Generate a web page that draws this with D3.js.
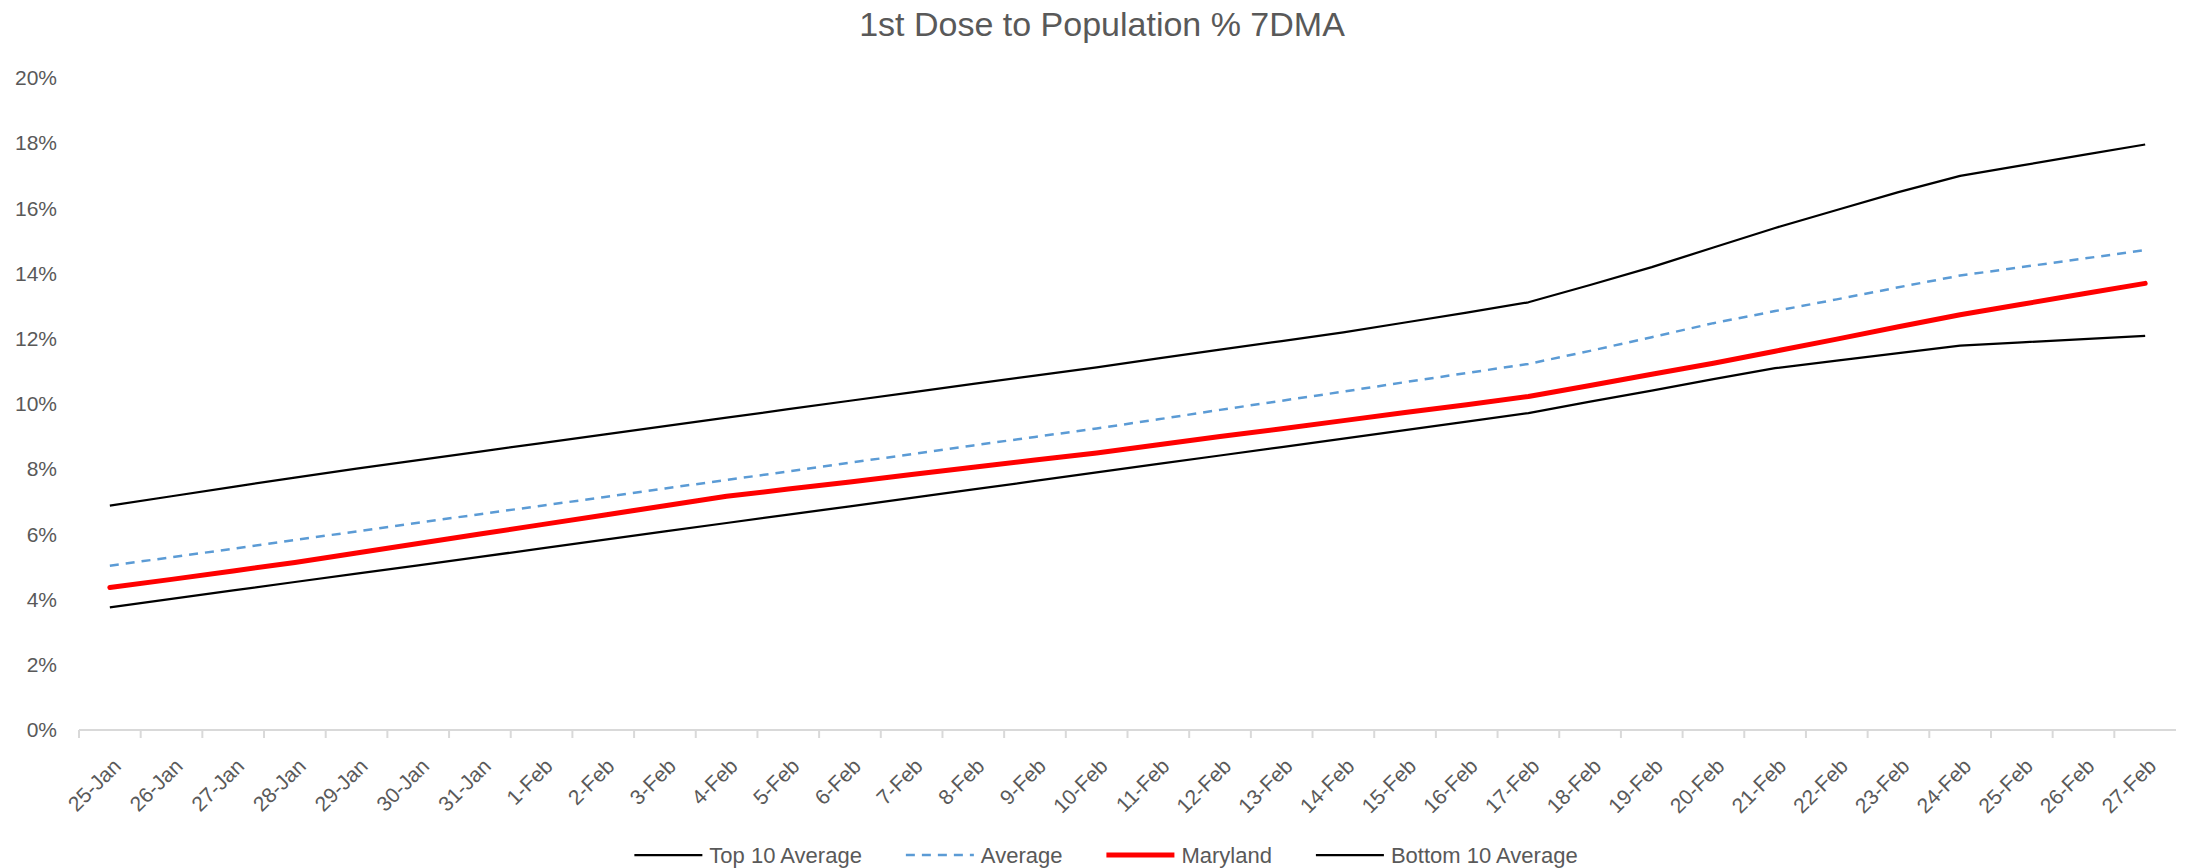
<!DOCTYPE html>
<html>
<head>
<meta charset="utf-8">
<script src="https://cdnjs.cloudflare.com/ajax/libs/d3/7.8.5/d3.min.js"></script>
<style>
    body { margin: 0; background: #fff; }
    svg { display: block; font-family: "Liberation Sans", Arial, sans-serif; }
</style>
</head>
<body>
<svg id="chart" width="2190" height="868"></svg>
<script>
// days shown on the x axis
var categories = ["25-Jan", "26-Jan", "27-Jan", "28-Jan", "29-Jan", "30-Jan", "31-Jan",
    "1-Feb", "2-Feb", "3-Feb", "4-Feb", "5-Feb", "6-Feb", "7-Feb", "8-Feb", "9-Feb", "10-Feb",
    "11-Feb", "12-Feb", "13-Feb", "14-Feb", "15-Feb", "16-Feb", "17-Feb", "18-Feb", "19-Feb",
    "20-Feb", "21-Feb", "22-Feb", "23-Feb", "24-Feb", "25-Feb", "26-Feb", "27-Feb"];

// % of population with a 1st dose, 7 day moving average
var top10 = [6.88, 7.17, 7.46, 7.74, 8.02, 8.28, 8.54, 8.80, 9.06, 9.32, 9.58, 9.84, 10.10,
    10.36, 10.62, 10.87, 11.12, 11.40, 11.67, 11.93, 12.20, 12.50, 12.80, 13.12, 13.65, 14.20,
    14.80, 15.40, 15.95, 16.50, 17.00, 17.32, 17.64, 17.96];
var average = [5.04, 5.30, 5.56, 5.83, 6.09, 6.36, 6.62, 6.88, 7.14, 7.41, 7.67, 7.93, 8.20,
    8.46, 8.73, 8.99, 9.25, 9.53, 9.82, 10.10, 10.38, 10.67, 10.95, 11.23, 11.63, 12.05,
    12.48, 12.85, 13.21, 13.58, 13.94, 14.20, 14.46, 14.72];
var maryland = [4.37, 4.62, 4.88, 5.14, 5.43, 5.72, 6.01, 6.30, 6.59, 6.88, 7.17, 7.39, 7.61,
    7.84, 8.06, 8.28, 8.50, 8.75, 9.00, 9.24, 9.49, 9.74, 9.98, 10.23, 10.57, 10.91,
    11.25, 11.62, 11.99, 12.37, 12.74, 13.06, 13.38, 13.70];
var bottom10 = [3.76, 4.02, 4.28, 4.54, 4.80, 5.05, 5.31, 5.57, 5.83, 6.09, 6.35, 6.61, 6.86,
    7.12, 7.38, 7.64, 7.90, 8.16, 8.42, 8.68, 8.94, 9.20, 9.46, 9.72, 10.07, 10.41,
    10.76, 11.10, 11.33, 11.56, 11.79, 11.89, 11.99, 12.09];

var yTicks = [0, 2, 4, 6, 8, 10, 12, 14, 16, 18, 20];

var series = [
    { name: "Top 10 Average", values: top10, color: "#000000", width: 2.25, dash: null },
    { name: "Average", values: average, color: "#5b9bd5", width: 2.5, dash: "9,7" },
    { name: "Maryland", values: maryland, color: "#ff0000", width: 5, dash: null },
    { name: "Bottom 10 Average", values: bottom10, color: "#000000", width: 2.25, dash: null }
];

var textColor = "#595959";

var margin = { top: 78, right: 14, bottom: 138, left: 79 };
var width = 2190, height = 868;

var svg = d3.select("#chart");

var x = d3.scaleBand()
    .domain(categories)
    .range([margin.left, width - margin.right])
    .padding(0);

var y = d3.scaleLinear()
    .domain([0, 20])
    .range([height - margin.bottom, margin.top]);

// title
svg.append("text")
    .attr("x", 1102)
    .attr("y", 36)
    .attr("text-anchor", "middle")
    .attr("fill", textColor)
    .style("font-size", "34px")
    .text("1st Dose to Population % 7DMA");

// y axis labels only, no gridlines
var yAxis = svg.append("g")
    .attr("transform", "translate(" + (margin.left - 22) + ",0)")
    .call(d3.axisLeft(y).tickValues(yTicks).tickSize(0).tickFormat(function (d) { return d + "%"; }));
yAxis.select(".domain").remove();
yAxis.selectAll("text")
    .attr("fill", textColor)
    .attr("x", 0)
    .style("font-family", "inherit")
    .style("font-size", "21px");

// x axis line
var axisY = y(0);
svg.append("line")
    .attr("x1", x.range()[0])
    .attr("x2", x.range()[1])
    .attr("y1", axisY)
    .attr("y2", axisY)
    .attr("stroke", "#d9d9d9")
    .attr("stroke-width", 2);

// tick marks between categories
svg.append("g")
    .selectAll("line")
    .data(categories)
    .enter()
    .append("line")
        .attr("x1", function (d) { return x(d); })
        .attr("x2", function (d) { return x(d); })
        .attr("y1", axisY)
        .attr("y2", axisY + 8)
        .attr("stroke", "#d9d9d9")
        .attr("stroke-width", 2);

// rotated category labels
svg.append("g")
    .selectAll("text")
    .data(categories)
    .enter()
    .append("text")
        .attr("transform", function (d) {
            return "translate(" + (x(d) + x.bandwidth() / 2 + 2) + "," + (axisY + 27) + ") rotate(-45)";
        })
        .attr("text-anchor", "end")
        .attr("dy", "0.7em")
        .attr("fill", textColor)
        .style("font-size", "21px")
        .text(function (d) { return d; });

// lines
var line = d3.line()
    .x(function (d, i) { return x(categories[i]) + x.bandwidth() / 2; })
    .y(function (d) { return y(d); });

svg.append("g")
    .selectAll("path")
    .data(series)
    .enter()
    .append("path")
        .attr("d", function (s) { return line(s.values); })
        .attr("fill", "none")
        .attr("stroke", function (s) { return s.color; })
        .attr("stroke-width", function (s) { return s.width; })
        .attr("stroke-dasharray", function (s) { return s.dash; })
        .attr("stroke-linejoin", "round")
        .attr("stroke-linecap", function (s) { return s.name === "Maryland" ? "round" : "butt"; });

// legend, laid out from measured text widths
var legendY = 855;
var legend = svg.append("g");
var items = legend.selectAll("g")
    .data(series)
    .enter()
    .append("g");

items.append("line")
    .attr("x1", 0)
    .attr("x2", 68)
    .attr("y1", 0)
    .attr("y2", 0)
    .attr("stroke", function (s) { return s.color; })
    .attr("stroke-width", function (s) { return s.width; })
    .attr("stroke-dasharray", function (s) { return s.dash; });

items.append("text")
    .attr("x", 75)
    .attr("dy", "0.35em")
    .attr("fill", textColor)
    .style("font-size", "22px")
    .text(function (s) { return s.name; });

var offsets = [], cursor = 0;
items.each(function () {
    var w = 75 + d3.select(this).select("text").node().getComputedTextLength();
    offsets.push(cursor);
    cursor += w + 44;
});
var total = cursor - 44;
var start = 1106 - total / 2;
items.attr("transform", function (d, i) {
    return "translate(" + (start + offsets[i]) + "," + legendY + ")";
});
</script>
</body>
</html>
